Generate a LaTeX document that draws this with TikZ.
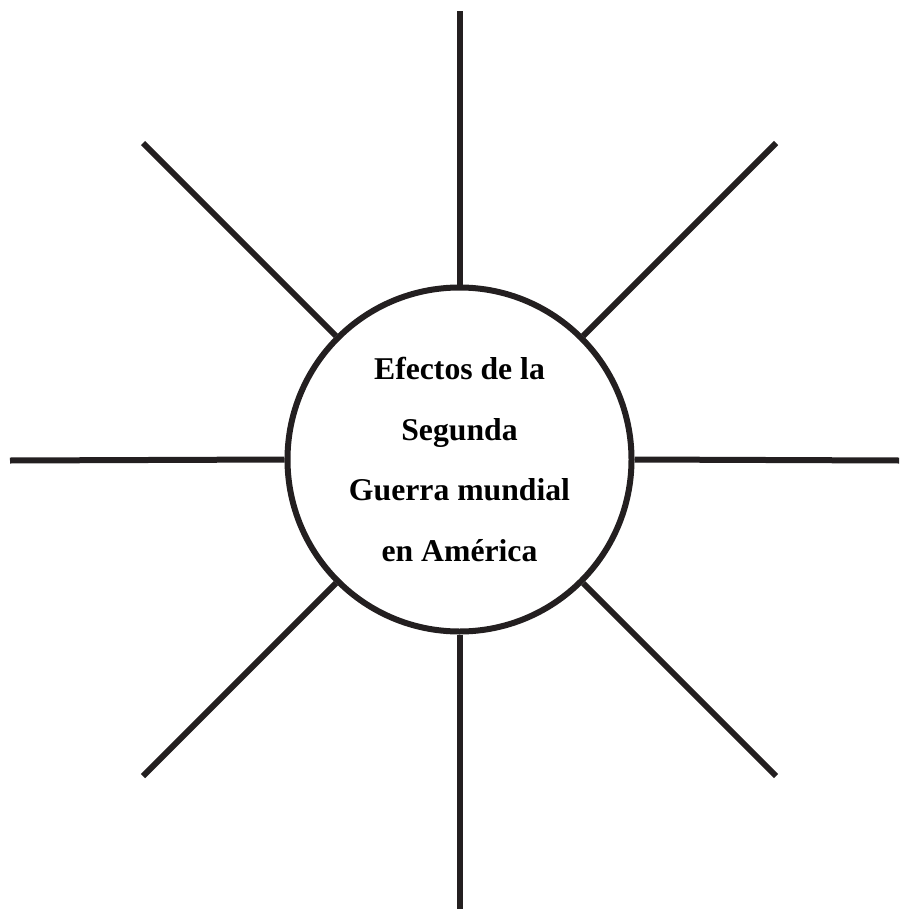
\documentclass[tikz,border=0pt]{standalone}
\usepackage{fontspec}
\setmainfont{Liberation Serif}
\usetikzlibrary{positioning}
\definecolor{inkgray}{HTML}{231F20}

\begin{document}
\begin{tikzpicture}[x=1pt,y=-1pt]
    \useasboundingbox (0,0) rectangle (899,909);
    \tikzset{spoke/.style={line width=6pt, draw=inkgray}}
    % Centre circle
    \node[circle, draw=inkgray, line width=6pt, minimum size=344pt, inner sep=0pt,
          align=center, font=\fontsize{31.7}{60.5}\selectfont\bfseries] (hub) at (459.5,459.5)
          {Efectos de la\\Segunda\\Guerra mundial\\en Am\'erica};

    % Spoke ends
    \coordinate (top) at (459.5,11);
    \coordinate (bot) at (459.5,909);
    \coordinate (lft) at (10,460.5);
    \coordinate (rgt) at (899,460.5);
    \coordinate (tl) at (143,143);
    \coordinate (tr) at (776,143);
    \coordinate (bl) at (143,776);
    \coordinate (br) at (776,776);

    % Spokes
    \draw[spoke] (hub.north) -- (top);
    \draw[spoke] (hub.south) -- (bot);
    \draw[spoke] (hub.west) -- (lft);
    \draw[spoke] (hub.east) -- (rgt);
    \draw[spoke] (hub.north west) -- (tl);
    \draw[spoke] (hub.north east) -- (tr);
    \draw[spoke] (hub.south west) -- (bl);
    \draw[spoke] (hub.south east) -- (br);
\end{tikzpicture}
\end{document}
